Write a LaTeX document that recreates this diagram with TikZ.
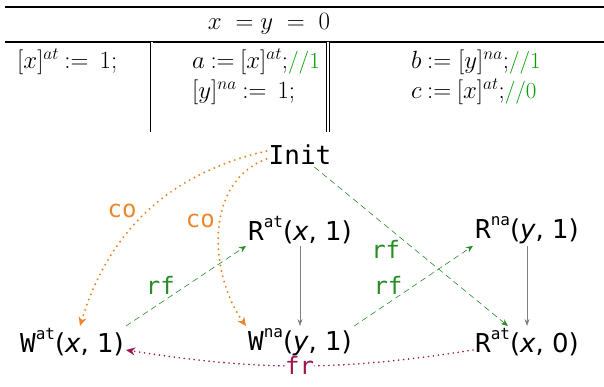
\documentclass[tikz,border=0pt]{standalone}
\usepackage{fontspec}
\newfontfamily\monofont{DejaVu Sans Mono}
\newfontfamily\labfont{DejaVu Sans}
\usetikzlibrary{positioning, arrows.meta}
\definecolor{cogold}{RGB}{235,135,40}
\definecolor{rfgreen}{RGB}{40,140,40}
\definecolor{frred}{RGB}{160,20,80}
\definecolor{cmtgreen}{RGB}{0,160,0}
\newcommand{\evnt}[4]{{\monofont #1}\raisebox{0.5em}{\fontsize{16}{16}\selectfont\monofont #2}{\labfont(\textit{#3}, #4)}}

\begin{document}
\begin{tikzpicture}[x=1pt, y=1pt,
        ev/.style={on grid, font=\fontsize{26}{30}\selectfont, inner sep=2pt},
        tab/.style={font=\fontsize{23}{27}\selectfont, inner sep=0pt},
        lbl/.style={font=\fontsize{24}{26}\selectfont\monofont, inner sep=1pt},
        co/.style={-{Stealth[length=9pt,width=8pt]}, cogold, line width=2.2pt,
                   line cap=round, dash pattern=on 0pt off 5.5pt},
        rf/.style={-{Stealth[length=7pt,width=6pt]}, rfgreen, line width=0.6pt,
                   dash pattern=on 6pt off 4pt},
        po/.style={-{Stealth[length=7pt,width=5pt]}, gray, line width=0.7pt},
        fr/.style={-{Stealth[length=9pt,width=8pt]}, frred, line width=1.8pt,
                   line cap=round, dash pattern=on 0pt off 5pt}
      ]
        \useasboundingbox (0,0) rectangle (604,386);
        % litmus table
        \draw[line width=2.2pt] (5,379) -- (604,379);
        \node[tab] (hdr) at (269,362) {$x\;= y\;=\;0$};
        \draw[line width=2.2pt] (5,344) -- (604,344);
        \draw[double, double distance=2pt, line width=0.8pt] (151.5,344) -- (151.5,254);
        \draw[double, double distance=2pt, line width=0.8pt] (328,344) -- (328,254);
        \node[tab, anchor=west] (t1a) at (17,324) {$[x]^{at}\:{:=}\ \,1;$};
        \node[tab, anchor=west] (t2a) at (192,324) {$a\:{:=}\:[x]^{at};$\textcolor{cmtgreen}{//1}};
        \node[tab, anchor=west] (t2b) at (192,294) {$[y]^{na}\:{:=}\ \,1;$};
        \node[tab, anchor=west] (t3a) at (411,324) {$b\:{:=}\ [y]^{na};$\textcolor{cmtgreen}{//1}};
        \node[tab, anchor=west] (t3b) at (411,294) {$c\:{:=}\:[x]^{at};$\textcolor{cmtgreen}{//0}};
        % events
        \node[ev] (init) at (300,231) {\monofont Init};
        \node[ev, below=75pt of init] (rx1) {\evnt{R}{at}{x}{1}};
        \node[ev, right=227pt of rx1] (ry1) {\evnt{R}{na}{y}{1}};
        \node[ev, below=112pt of rx1] (wy1) {\evnt{W}{na}{y}{1}};
        \node[ev, left=228pt of wy1] (wx1) {\evnt{W}{at}{x}{1}};
        \node[ev, below=112pt of ry1] (rx0) {\evnt{R}{at}{x}{0}};
        % relations
        \draw[co] ([yshift=4pt]init.west) to[bend right=30]
          node[lbl, text=cogold, pos=0.55, above left] {co} ([xshift=8pt]wx1.north);
        \draw[co] ([yshift=-4pt]init.west) to[out=200, in=125]
          node[lbl, text=cogold, pos=0.45, left=3pt] {co} (wy1.north west);
        \draw[rf] (wx1.north east) -- node[lbl, text=rfgreen, pos=0.4, above left=-3pt] {rf} (rx1.south west);
        \draw[rf] (wy1.north east) -- node[lbl, text=rfgreen, pos=0.4, above left=-3pt] {rf} (ry1.south west);
        \draw[rf] (init.-40) -- node[lbl, text=rfgreen, pos=0.45, below left] {rf} (rx0.140);
        \draw[po] (rx1) -- (wy1);
        \draw[po] (ry1) -- (rx0);
        \draw[fr] ([yshift=-8pt]rx0.west) to[bend left=9]
          node[lbl, text=frred, fill=white, inner sep=0pt] {fr} ([yshift=-8pt]wx1.east);
      \end{tikzpicture}
\end{document}
